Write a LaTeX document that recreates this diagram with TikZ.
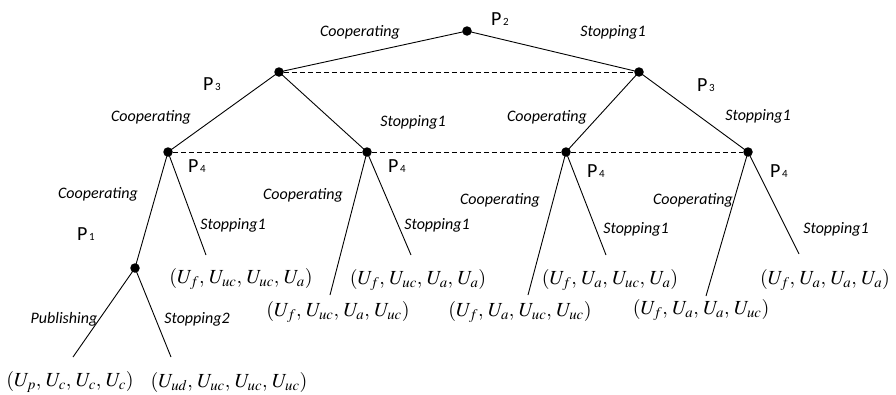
\documentclass[tikz,border=0pt]{standalone}
\usepackage{mathptmx}
\usepackage{fontspec}
\newfontfamily\labfont{Carlito}
\tikzset{
  dot/.style={circle,fill=black,inner sep=0pt,minimum size=9.5pt},
  br/.style={line width=0.9pt},
  info/.style={line width=1pt,dash pattern=on 5pt off 3pt},
  lbl/.style={anchor=base,inner sep=0pt,font=\fontsize{16}{18}\selectfont\labfont\itshape},
  plab/.style={anchor=base west,inner sep=0pt,font=\fontsize{20}{22}\selectfont\labfont},
  pay/.style={anchor=center,inner sep=0pt,font=\fontsize{20}{24}\selectfont}
}
\newcommand{\psub}[1]{P\kern1.5pt{\fontsize{11}{11}\selectfont #1}}
\newcommand{\cm}{,\,}
\begin{document}
\begin{tikzpicture}[x=1pt,y=-1pt]
\useasboundingbox (0,0) rectangle (896,394);
% decision nodes
\node[dot] (r) at (467,31) {};
\node[dot] (l3) at (279,72) {};
\node[dot] (r3) at (639,72) {};
\node[dot] (a4) at (168,152) {};
\node[dot] (b4) at (367,152) {};
\node[dot] (c4) at (566,152) {};
\node[dot] (d4) at (748,152) {};
\node[dot] (p1) at (135,268) {};
% free ends
\coordinate (ea) at (206,255);
\coordinate (ebl) at (330,295);
\coordinate (ebr) at (411,255);
\coordinate (ecl) at (528,295);
\coordinate (ecr) at (606,255);
\coordinate (edl) at (706,296);
\coordinate (edr) at (799,254);
\coordinate (epl) at (73,357);
\coordinate (epr) at (171,357);
% branches
\draw[br] (r.center) -- (l3.center);
\draw[br] (r.center) -- (r3.center);
\draw[br] (l3.center) -- (a4.center);
\draw[br] (l3.center) -- (b4.center);
\draw[br] (r3.center) -- (c4.center);
\draw[br] (r3.center) -- (d4.center);
\draw[br] (a4.center) -- (p1.center);
\draw[br] (a4.center) -- (ea);
\draw[br] (b4.center) -- (ebl);
\draw[br] (b4.center) -- (ebr);
\draw[br] (c4.center) -- (ecl);
\draw[br] (c4.center) -- (ecr);
\draw[br] (d4.center) -- (edl);
\draw[br] (d4.center) -- (edr);
\draw[br] (p1.center) -- (epl);
\draw[br] (p1.center) -- (epr);
% information sets
\draw[info] (l3) -- (r3);
\draw[info] (a4) -- (b4);
\draw[info] (b4) -- (c4);
\draw[info] (c4) -- (d4);
% players
\node[plab] (n2) at (491,25) {\psub{2}};
\node[plab] (n3l) at (203,90) {\psub{3}};
\node[plab] (n3r) at (697,91) {\psub{3}};
\node[plab] (n4a) at (188,172) {\psub{4}};
\node[plab] (n4b) at (388,172) {\psub{4}};
\node[plab] (n4c) at (587,177) {\psub{4}};
\node[plab] (n4d) at (770,177) {\psub{4}};
\node[plab] (n1) at (77,240) {\psub{1}};
% action labels
\node[lbl] (t1) at (360,36) {Cooperating};
\node[lbl] (t2) at (613,36) {Stopping1};
\node[lbl] (t3) at (151,121) {Cooperating};
\node[lbl] (t4) at (413,126) {Stopping1};
\node[lbl] (t5) at (547,121) {Cooperating};
\node[lbl] (t6) at (758,120) {Stopping1};
\node[lbl] (t7) at (98,198) {Cooperating};
\node[lbl] (t8) at (233,229) {Stopping1};
\node[lbl] (t9) at (303,199) {Cooperating};
\node[lbl] (t10) at (437,229) {Stopping1};
\node[lbl] (t11) at (500,204) {Cooperating};
\node[lbl] (t12) at (636,233) {Stopping1};
\node[lbl] (t13) at (693,204) {Cooperating};
\node[lbl] (t14) at (836,233) {Stopping1};
\node[lbl] (t15) at (64,323) {Publishing};
\node[lbl] (t16) at (197,323) {Stopping2};
% payoffs
\node[pay] (q1) at (241,279) {$(U_{f}\cm U_{uc}\cm U_{uc}\cm U_{a})$};
\node[pay] (q2) at (418,280) {$(U_{f}\cm U_{uc}\cm U_{a}\cm U_{a})$};
\node[pay] (q3) at (338,312) {$(U_{f}\cm U_{uc}\cm U_{a}\cm U_{uc})$};
\node[pay] (q4) at (610,280) {$(U_{f}\cm U_{a}\cm U_{uc}\cm U_{a})$};
\node[pay] (q5) at (520,312) {$(U_{f}\cm U_{a}\cm U_{uc}\cm U_{uc})$};
\node[pay] (q6) at (825,280) {$(U_{f}\cm U_{a}\cm U_{a}\cm U_{a})$};
\node[pay] (q7) at (701,310) {$(U_{f}\cm U_{a}\cm U_{a}\cm U_{uc})$};
\node[pay] (q8) at (70,382) {$(U_{p}\cm U_{c}\cm U_{c}\cm U_{c})$};
\node[pay] (q9) at (229,382) {$(U_{ud}\cm U_{uc}\cm U_{uc}\cm U_{uc})$};
\end{tikzpicture}
\end{document}
